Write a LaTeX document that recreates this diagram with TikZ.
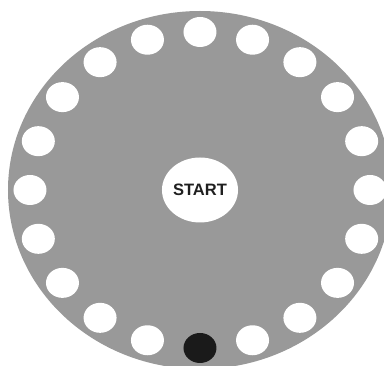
\documentclass[tikz,border=0pt]{standalone}
\usepackage{fontspec}
\setmainfont{Liberation Sans}
\usetikzlibrary{shapes.geometric}
\definecolor{boardgray}{HTML}{999999}
\definecolor{tokenblack}{HTML}{1A1A1A}

\begin{document}
\begin{tikzpicture}[x=1pt, y=1pt,
    board/.style={ellipse, fill=boardgray, minimum width=384pt, minimum height=358pt, inner sep=0pt},
    hole/.style={ellipse, fill=white, minimum width=33pt, minimum height=30pt, inner sep=0pt},
    token/.style={hole, fill=tokenblack},
    startbox/.style={ellipse, fill=white, minimum width=68pt, minimum height=65pt, inner sep=0pt, text=black!88, font=\fontsize{16.5}{18}\selectfont\bfseries}
]
\useasboundingbox (-200,-176) rectangle (184,190);
\clip (-200,-176) rectangle (184,190);
\node[board] (board) at (0,0) {};
\node[startbox] (start) at (0,0) {START};

% ring of 20 holes, the token sits on the bottom one
\foreach \i in {0,...,19} {
    \ifnum\i=10
        \node[token] (hole\i) at ({170*cos(90-18*\i)},{158*sin(90-18*\i)}) {};
    \else
        \node[hole] (hole\i) at ({170*cos(90-18*\i)},{158*sin(90-18*\i)}) {};
    \fi
}
\end{tikzpicture}
\end{document}
